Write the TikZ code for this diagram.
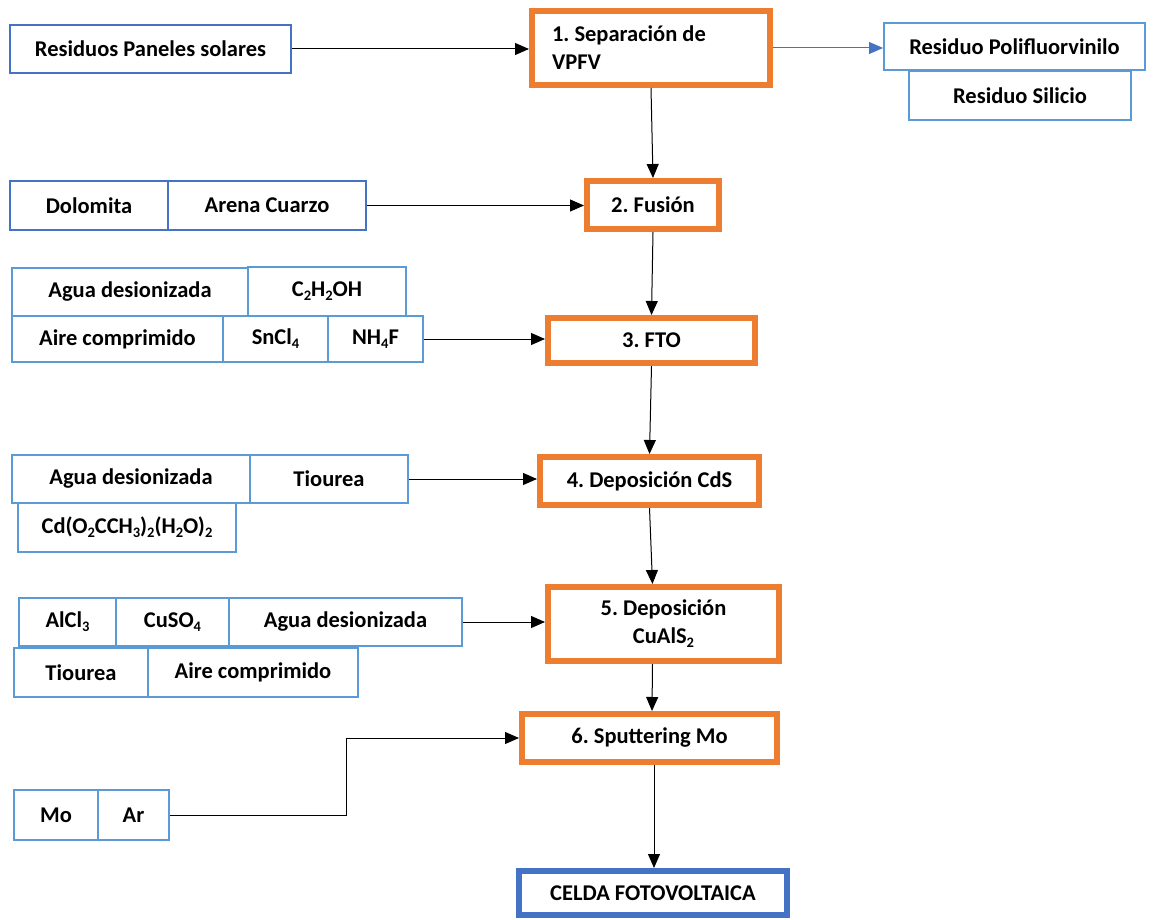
\documentclass[tikz,border=0pt]{standalone}
\usepackage{fontspec}
\setmainfont{Carlito}
\usetikzlibrary{arrows.meta}
\definecolor{orng}{HTML}{ED7D31}
\definecolor{dblue}{HTML}{4472C4}
\definecolor{lblue}{HTML}{5B9BD5}
\newcommand{\sbs}[1]{\raisebox{-0.35ex}{\fontsize{14.5}{14.5}\selectfont #1}}
\frenchspacing
\tikzset{
  base/.style={rectangle, inner sep=0pt, font=\fontsize{22.5}{28}\selectfont\bfseries\frenchspacing, text=black},
  inbox/.style={base, draw=lblue, line width=2pt},
  dbox/.style={base, draw=dblue, line width=2pt},
  stepbox/.style={base, draw=orng, line width=6pt, align=center},
  endbox/.style={base, draw=dblue, line width=6pt},
  arr/.style={draw=black, line width=1pt, -{Triangle[length=14pt,width=12pt]}},
  barr/.style={draw=dblue, line width=1pt, -{Triangle[length=14pt,width=12pt]}},
}
\begin{document}
\begin{tikzpicture}[x=1pt,y=-1pt]
\useasboundingbox (0,0) rectangle (1160,920);
% inputs
\node[dbox, minimum width=281pt, minimum height=48pt] (res) at (150.5,49) {Residuos Paneles solares};
\node[stepbox, minimum width=238pt, minimum height=74pt, text width=198pt, inner xsep=20pt, align=flush left] (sep) at (651,48) {1. Separación de\\VPFV};
\node[inbox, minimum width=261pt, minimum height=47pt] (poli) at (1014.5,46.5) {Residuo Polifluorvinilo};
\node[inbox, minimum width=222pt, minimum height=49pt] (sil) at (1020,95.5) {Residuo Silicio};

\node[dbox, minimum width=158pt, minimum height=49pt] (dol) at (89,205.5) {Dolomita};
\node[dbox, minimum width=198pt, minimum height=49pt] (are) at (267,205.5) {Arena Cuarzo};
\node[stepbox, minimum width=132pt, minimum height=48pt] (fus) at (653,205) {2. Fusión};

\node[inbox, minimum width=236pt, minimum height=48pt] (agua1) at (130,292) {Agua desionizada};
\node[inbox, minimum width=158pt, minimum height=49pt] (c2h) at (327,291.5) {C\sbs{2}H\sbs{2}OH};
\node[inbox, minimum width=211pt, minimum height=46pt] (aire1) at (117.5,339) {Aire comprimido};
\node[inbox, minimum width=105pt, minimum height=46pt] (sncl) at (275.5,339) {SnCl\sbs{4}};
\node[inbox, minimum width=95pt, minimum height=46pt] (nh4f) at (375.5,339) {NH\sbs{4}F};
\node[stepbox, minimum width=207pt, minimum height=45pt] (fto) at (651.5,340.5) {3. FTO};

\node[inbox, minimum width=238pt, minimum height=48pt] (agua2) at (131,479) {Agua desionizada};
\node[inbox, minimum width=158pt, minimum height=48pt] (tio1) at (329,479) {Tiourea};
\node[inbox, minimum width=218pt, minimum height=49pt] (cd) at (127,527.5) {Cd(O\sbs{2}CCH\sbs{3})\sbs{2}(H\sbs{2}O)\sbs{2}};
\node[stepbox, minimum width=219pt, minimum height=48pt] (cds) at (649.5,481) {4. Deposición CdS};

\node[inbox, minimum width=97pt, minimum height=48pt] (alc) at (67.5,622) {AlCl\sbs{3}};
\node[inbox, minimum width=113pt, minimum height=48pt] (cus) at (172.5,622) {CuSO\sbs{4}};
\node[inbox, minimum width=233pt, minimum height=48pt] (agua3) at (345.5,622) {Agua desionizada};
\node[inbox, minimum width=134pt, minimum height=49pt] (tio2) at (81,672.5) {Tiourea};
\node[inbox, minimum width=210pt, minimum height=49pt] (aire2) at (253,672.5) {Aire comprimido};
\node[stepbox, minimum width=231pt, minimum height=74pt] (cua) at (663.5,624) {5. Deposición\\CuAlS\sbs{2}};

\node[stepbox, minimum width=255pt, minimum height=48pt] (spu) at (649.5,738) {6. Sputtering Mo};
\node[inbox, minimum width=84pt, minimum height=50pt] (mo) at (56,815) {Mo};
\node[inbox, minimum width=71pt, minimum height=50pt] (ar) at (133.5,815) {Ar};

\node[endbox, minimum width=268pt, minimum height=44pt] (cel) at (653,893) {CELDA FOTOVOLTAICA};

% connectors
\draw[arr] (res.east) -- (res.east -| sep.west);
\draw[barr] (sep.east) -- (sep.east -| poli.west);
\draw[arr] (sep.south) -- (fus.north);
\draw[arr] (are.east) -- (are.east -| fus.west);
\draw[arr] (fus.south) -- (fto.north);
\draw[arr] (nh4f.east) -- (nh4f.east -| fto.west);
\draw[arr] (fto.south) -- (cds.north);
\draw[arr] (tio1.east) -- (tio1.east -| cds.west);
\draw[arr] (cds.south) -- ([xshift=-11pt]cua.north);
\draw[arr] (agua3.east) -- (agua3.east -| cua.west);
\draw[arr] ([xshift=-11pt]cua.south) -- ([xshift=2.5pt]spu.north);
\coordinate (bend) at (346,815);
\draw[arr] (ar.east) -- (bend) |- (spu.west);
\draw[arr] ([xshift=4.5pt]spu.south) -- ([xshift=1pt]cel.north);
\end{tikzpicture}
\end{document}
